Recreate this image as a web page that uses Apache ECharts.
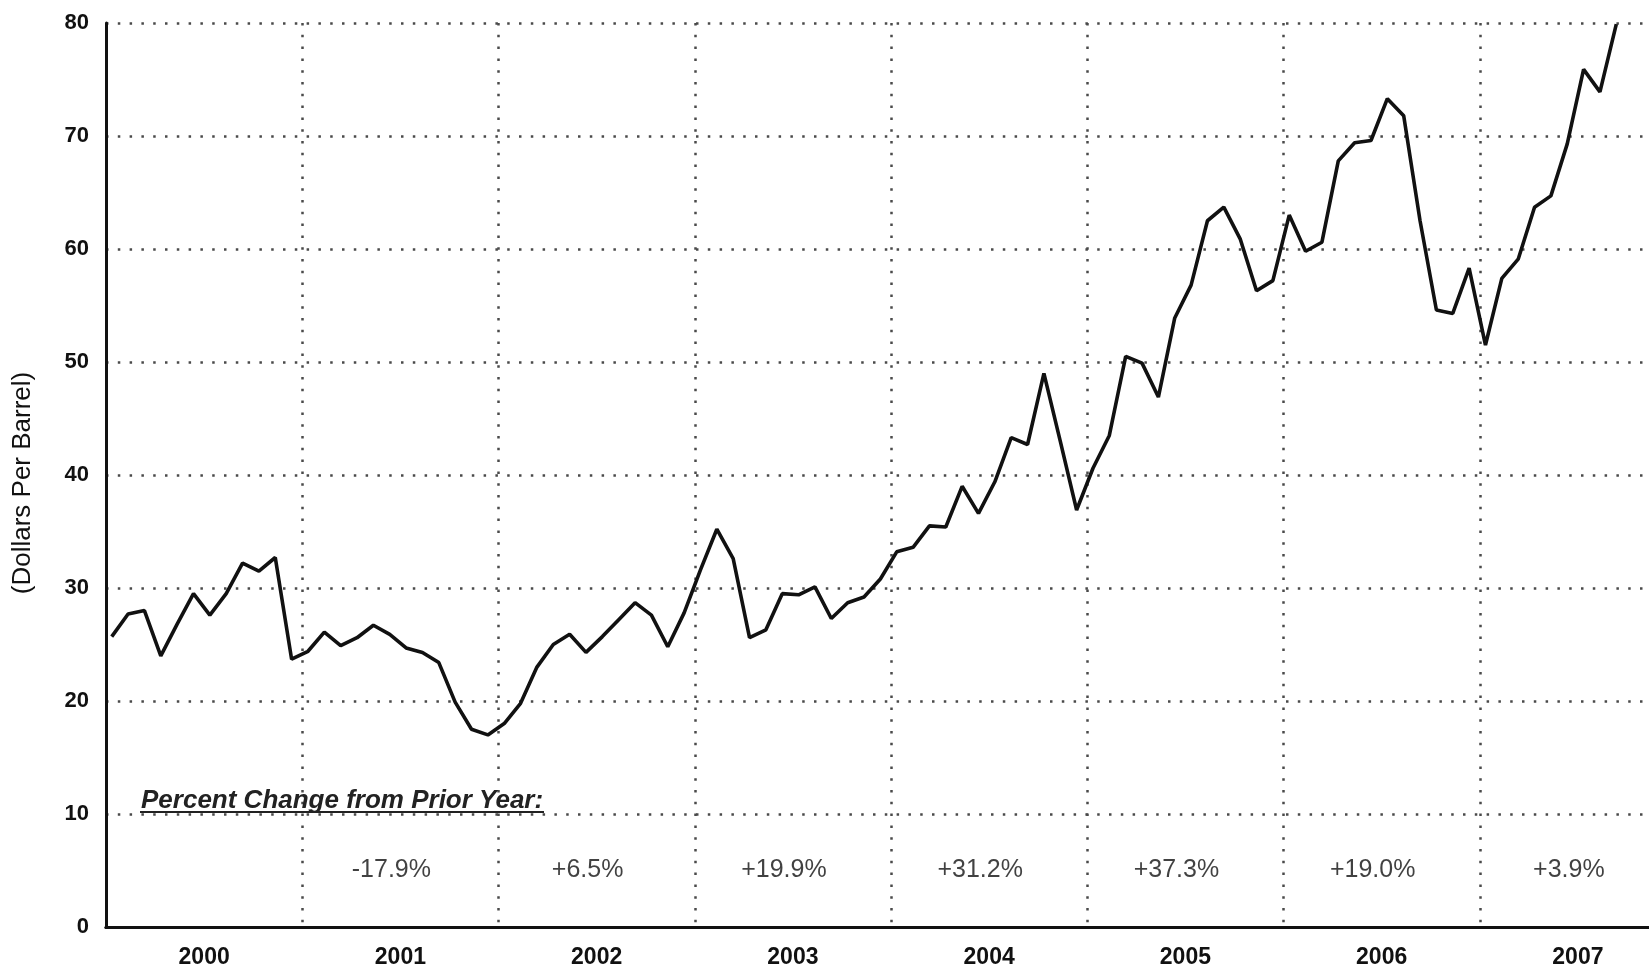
<!DOCTYPE html>
<html>
<head>
<meta charset="utf-8">
<script src="https://cdn.jsdelivr.net/npm/echarts@6/dist/echarts.min.js"></script>
<style>
html,body{margin:0;padding:0;background:#fff;overflow:hidden;width:1649px;height:969px;}
#chart{width:1676px;height:969px;}
</style>
</head>
<body>
<div id="chart"></div>
<script>
// ---- data (monthly, dollars per barrel) ----
const years = ['2000','2001','2002','2003','2004','2005','2006','2007'];
const price2000 = [25.7, 27.7, 28.0, 24.0, 26.8, 29.5, 27.6, 29.5, 32.2, 31.5, 32.7, 23.7];
const price2001 = [24.4, 26.1, 24.9, 25.6, 26.7, 25.9, 24.7, 24.3, 23.4, 19.9, 17.5, 17.0];
const price2002 = [18.0, 19.8, 23.0, 25.0, 25.9, 24.3, 25.7, 27.2, 28.7, 27.6, 24.8, 27.8];
const price2003 = [31.6, 35.2, 32.6, 25.6, 26.3, 29.5, 29.4, 30.1, 27.3, 28.7, 29.2, 30.8];
const price2004 = [33.2, 33.6, 35.5, 35.4, 39.0, 36.6, 39.4, 43.3, 42.7, 49.0, 43.0, 36.9];
const price2005 = [40.6, 43.5, 50.5, 49.9, 46.9, 53.9, 56.8, 62.5, 63.7, 60.9, 56.3, 57.2];
const price2006 = [63.0, 59.8, 60.6, 67.8, 69.4, 69.6, 73.3, 71.8, 62.5, 54.6, 54.3, 58.3];
const price2007 = [51.5, 57.4, 59.1, 63.7, 64.7, 69.3, 75.9, 73.9, 79.9];
const changeYears = ['2001','2002','2003','2004','2005','2006','2007'];
const changeLabels = ['-17.9%','+6.5%','+19.9%','+31.2%','+37.3%','+19.0%','+3.9%'];
const yTicks = {min: 0, max: 80, interval: 10};
const yAxisTitle = '(Dollars Per Barrel)';
const panelTitle = 'Percent Change from Prior Year:';

// ---- build ----
const monthly = [].concat(price2000, price2001, price2002, price2003, price2004, price2005, price2006, price2007);
const MONTH_POS = 0.35; // point sits ~11th of each month
const lineData = monthly.map((v, i) => [i + MONTH_POS, v]);
const changeData = changeYears.map((y, i) => ({value: [y, 5.0], label: {formatter: changeLabels[i]}}));

const dotted = {type: [2.5, 9.3], width: 2.5, color: '#4a4a4a'};
const axisBlack = {show: true, lineStyle: {color: '#111', width: 3}};
const FONT = 'Liberation Sans, Arial, sans-serif';

const chart = echarts.init(document.getElementById('chart'), null, {renderer: 'canvas'});
chart.setOption({
  backgroundColor: '#ffffff',
  animation: false,
  grid: {left: 106, right: 0, top: 23, bottom: 41, containLabel: false},
  xAxis: [
    {
      type: 'value', position: 'top', min: 0, max: years.length * 12,
      axisLine: axisBlack, axisTick: {show: false}, axisLabel: {show: false}, splitLine: {show: false}
    },
    {
      type: 'category', position: 'bottom', data: years, boundaryGap: true,
      axisLine: axisBlack, axisTick: {show: false},
      axisLabel: {color: '#111', fontFamily: FONT, fontWeight: 'bold', fontSize: 23, margin: 19},
      splitLine: {show: true, interval: 0, lineStyle: dotted}
    }
  ],
  yAxis: {
    type: 'value', min: yTicks.min, max: yTicks.max, interval: yTicks.interval,
    axisLine: axisBlack, axisTick: {show: false},
    axisLabel: {color: '#111', fontFamily: FONT, fontWeight: 'bold', fontSize: 22, margin: 17},
    splitLine: {show: true, lineStyle: dotted}
  },
  series: [
    {
      type: 'line', xAxisIndex: 0, yAxisIndex: 0, data: lineData,
      showSymbol: false, symbol: 'none', smooth: false,
      lineStyle: {color: '#111', width: 3.6}, z: 5
    },
    {
      type: 'scatter', xAxisIndex: 1, yAxisIndex: 0, data: changeData,
      symbolSize: 0, silent: true,
      label: {show: true, position: 'inside', offset: [-9, 0], color: '#111',
        fontFamily: FONT, fontSize: 25}
    }
  ],
  graphic: [
    {type: 'text', x: 23, y: 483, rotation: Math.PI / 2, z: 10,
      style: {text: yAxisTitle, fill: '#111', align: 'center', verticalAlign: 'middle',
        font: '26px "Liberation Sans", Arial, sans-serif'}},
    {type: 'text', left: 141, top: 788, z: 10,
      style: {text: panelTitle, fill: '#222', font: 'italic bold 26px "Liberation Sans", Arial, sans-serif'}},
    {type: 'line', z: 10, shape: {x1: 140, y1: 812, x2: 544, y2: 812},
      style: {stroke: '#222', lineWidth: 2.2}}
  ]
});
</script>
</body>
</html>
